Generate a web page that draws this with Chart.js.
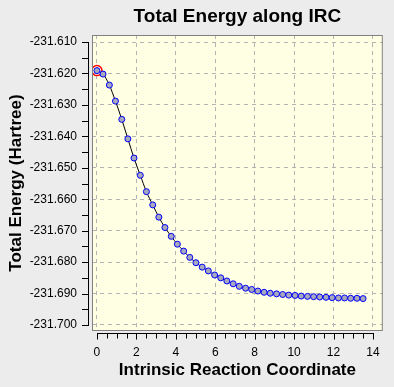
<!DOCTYPE html>
<html>
<head>
<meta charset="utf-8">
<script src="https://cdn.jsdelivr.net/npm/chart.js@4.4.0/dist/chart.umd.min.js"></script>
<style>
body { margin: 0; background: #ececec; }
canvas { display: block; }
</style>
</head>
<body>
<canvas id="ircChart" width="394" height="387"></canvas>
<script>
// IRC coordinate and energy (Hartree)
var coords = [0.00, 0.31, 0.63, 0.94, 1.26, 1.57, 1.88, 2.20, 2.51, 2.83,
              3.14, 3.45, 3.77, 4.08, 4.40, 4.71, 5.02, 5.34, 5.65, 5.97,
              6.28, 6.59, 6.91, 7.22, 7.54, 7.85, 8.16, 8.48, 8.79, 9.11,
              9.42, 9.73, 10.05, 10.36, 10.68, 10.99, 11.30, 11.62, 11.93, 12.25,
              12.56, 12.87, 13.19, 13.50];
var energies = [-231.6191, -231.6202, -231.6237, -231.6288, -231.6346, -231.6408, -231.6469, -231.6524, -231.6576, -231.6618,
                -231.6657, -231.6690, -231.6718, -231.6743, -231.6765, -231.6785, -231.6802, -231.6816, -231.6828, -231.6841,
                -231.6850, -231.6860, -231.6869, -231.6877, -231.6883, -231.6887, -231.6892, -231.6896, -231.6899, -231.6901,
                -231.6903, -231.6905, -231.6906, -231.6908, -231.6909, -231.6910, -231.6911, -231.6912, -231.6913, -231.6914,
                -231.6914, -231.6915, -231.6915, -231.6916];
var xTicks = [0, 2, 4, 6, 8, 10, 12, 14];
var yTicks = [-231.610, -231.620, -231.630, -231.640, -231.650, -231.660, -231.670, -231.680, -231.690, -231.700];

var font = 'Liberation Sans';

var points = coords.map(function (x, i) { return { x: x, y: energies[i] }; });

// plot background, frame and the detached axis lines with their tick marks
var frame = {
    id: 'frame',
    beforeDraw: function (chart) {
        var a = chart.chartArea, c = chart.ctx;
        c.save();
        c.fillStyle = '#ffffe4';
        c.fillRect(a.left, a.top, a.right - a.left, a.bottom - a.top);
        c.restore();
    },
    afterDraw: function (chart) {
        var a = chart.chartArea, c = chart.ctx;
        var xs = chart.scales.x, ys = chart.scales.y;
        c.save();
        c.strokeStyle = '#808080';
        c.lineWidth = 1;
        c.strokeRect(a.left + 0.5, a.top + 0.5, a.right - a.left - 1, a.bottom - a.top - 1);

        c.strokeStyle = '#000';
        c.beginPath();
        // y axis
        var ax = a.left - 3.5;
        var yTop = ys.getPixelForValue(yTicks[0]), yBot = ys.getPixelForValue(yTicks[yTicks.length - 1]);
        c.moveTo(ax, Math.round(yTop)); c.lineTo(ax, Math.round(yBot) + 1);
        for (var i = 0; i < yTicks.length * 2 - 1; i++) {
            var py = Math.round(ys.getPixelForValue(yTicks[0] - i * 0.005)) + 0.5;
            c.moveTo(ax - 6.5, py); c.lineTo(ax, py);
        }
        // x axis
        var ay = a.bottom + 2.5;
        c.moveTo(Math.round(xs.getPixelForValue(xTicks[0])), ay);
        c.lineTo(Math.round(xs.getPixelForValue(xTicks[xTicks.length - 1])) + 1, ay);
        for (var j = 0; j < (xTicks.length - 1) * 4 + 1; j++) {
            var px = Math.round(xs.getPixelForValue(j * 0.5)) + 0.5;
            c.moveTo(px, ay); c.lineTo(px, ay + (j % 4 === 0 ? 6 : 5));
        }
        c.stroke();
        c.restore();
    }
};

var ctx = document.getElementById('ircChart').getContext('2d');
var chart = new Chart(ctx, {
    type: 'scatter',
    data: {
        datasets: [
            {
                data: points,
                showLine: true,
                borderColor: '#000',
                borderWidth: 1,
                cubicInterpolationMode: 'monotone',
                pointRadius: 3,
                pointBorderWidth: 1,
                pointBorderColor: '#0000ff',
                pointBackgroundColor: '#a8a8bc',
                order: 1
            },
            {
                data: [points[0]],
                showLine: false,
                pointRadius: 5,
                pointBorderWidth: 1.5,
                pointBorderColor: '#ff0000',
                pointBackgroundColor: 'rgba(0,0,0,0)',
                order: 2
            }
        ]
    },
    options: {
        responsive: false,
        animation: false,
        layout: { padding: { left: 0, right: 5, top: 0, bottom: 0 } },
        scales: {
            x: {
                type: 'linear',
                min: -0.25,
                max: 14.5,
                afterFit: function (s) { s.height = 56; },
                afterBuildTicks: function (s) { s.ticks = xTicks.map(function (v) { return { value: v }; }); },
                grid: { color: '#b4b4b4', drawTicks: false },
                border: { display: false, dash: [4, 4] },
                ticks: { color: '#000', padding: 14, font: { family: font, size: 12 }, maxRotation: 0 },
                title: {
                    display: true,
                    text: 'Intrinsic Reaction Coordinate',
                    color: '#000',
                    font: { family: font, size: 17, weight: 'bold' },
                    padding: { top: 0, bottom: 6 }
                }
            },
            y: {
                type: 'linear',
                min: -231.70191,
                max: -231.60777,
                afterFit: function (s) { s.width = 92; },
                afterBuildTicks: function (s) { s.ticks = yTicks.map(function (v) { return { value: v }; }); },
                grid: { color: '#b4b4b4', drawTicks: false },
                border: { display: false, dash: [4, 4] },
                ticks: {
                    color: '#000',
                    padding: 15,
                    font: { family: font, size: 12 },
                    callback: function (v) { return v.toFixed(3); }
                },
                title: {
                    display: true,
                    text: 'Total Energy (Hartree)',
                    color: '#000',
                    font: { family: font, size: 17, weight: 'bold' },
                    padding: { top: 6, bottom: 0 }
                }
            }
        },
        plugins: {
            legend: { display: false },
            tooltip: { enabled: false },
            title: {
                display: true,
                text: 'Total Energy along IRC',
                fullSize: false,
                color: '#000',
                font: { family: font, size: 19, weight: 'bold' },
                padding: { top: 5.6, bottom: 6.6 }
            }
        }
    },
    plugins: [frame]
});
</script>
</body>
</html>
